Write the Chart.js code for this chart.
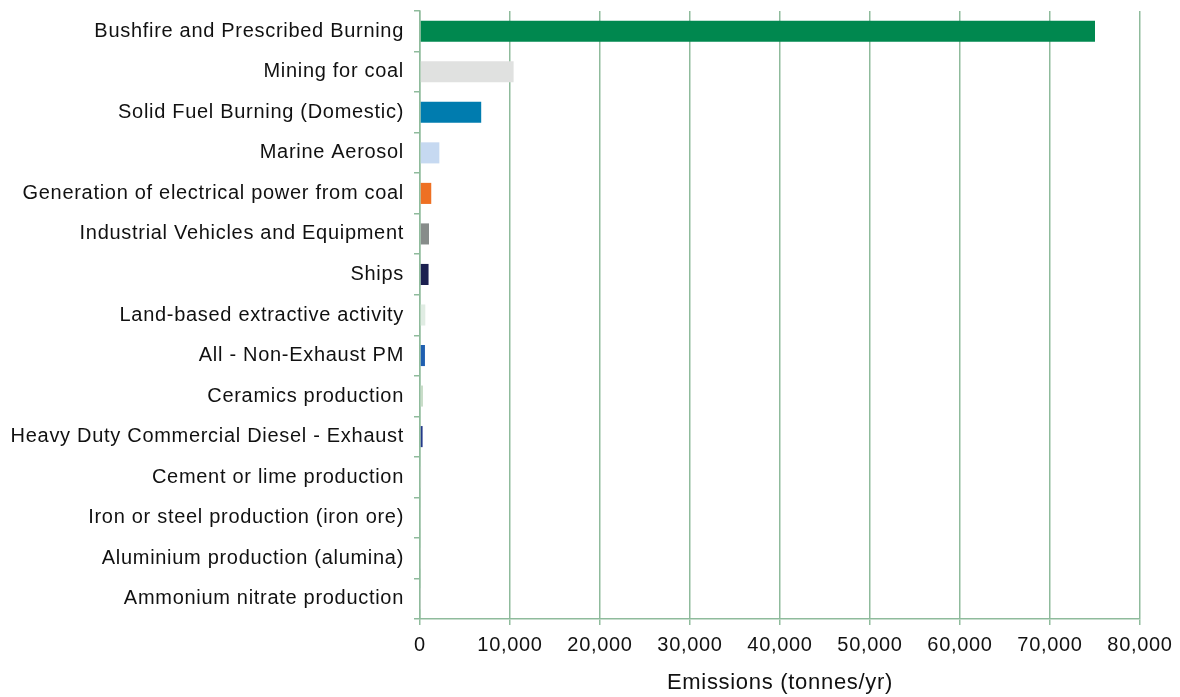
<!DOCTYPE html>
<html>
    <head>
        <script src="https://cdn.jsdelivr.net/npm/chart.js@4.4.1/dist/chart.umd.min.js"></script>
        <style>
            body { margin: 0; background: #fff; }
            #wrap { width: 1180px; height: 697px; }
        </style>
    </head>
    <body>
        <div id="wrap">
            <canvas id="myChart" width="1180" height="697"></canvas>
        </div>
    </body>
    <script>
        // categories (top to bottom)
        const sources = [
            'Bushfire and Prescribed Burning',
            'Mining for coal',
            'Solid Fuel Burning (Domestic)',
            'Marine Aerosol',
            'Generation of electrical power from coal',
            'Industrial Vehicles and Equipment',
            'Ships',
            'Land-based extractive activity',
            'All - Non-Exhaust PM',
            'Ceramics production',
            'Heavy Duty Commercial Diesel - Exhaust',
            'Cement or lime production',
            'Iron or steel production (iron ore)',
            'Aluminium production (alumina)',
            'Ammonium nitrate production'
        ]
        // emissions, tonnes/yr
        const emissions = [75000, 10400, 6800, 2150, 1250, 1000, 950, 590, 550, 330, 290, 120, 90, 60, 40]
        const barColors = [
            '#00884f', '#e0e1e0', '#007caf', '#c6d9f1', '#ee7023',
            '#878c8a', '#1b2050', '#e0ece3', '#1f5fb0', '#c8dcc8',
            '#253a8a', '#d0d0d0', '#d0d0d0', '#d0d0d0', '#d0d0d0'
        ]
        const xTicks = [0, 10000, 20000, 30000, 40000, 50000, 60000, 70000, 80000]

        const gridColor = '#8fbb9c'
        const font = 'Liberation Sans, Arial, sans-serif'

        // 글자 간격 (원본 그림의 약간 넓은 자간)
        const spacing = {
            id: 'spacing',
            beforeDraw(chart) { chart.ctx.letterSpacing = '0.7px' }
        }

        const data = {
            labels: sources,
            datasets: [{
                data: emissions,
                backgroundColor: barColors,
                barPercentage: 0.52,
                categoryPercentage: 1
            }]
        }
        const config = {
            type: 'bar',
            data: data,
            plugins: [spacing],
            options: {
                indexAxis: 'y',
                responsive: false,
                animation: false,
                layout: { padding: { left: 0, top: 11, right: 40, bottom: 0 } },
                plugins: { legend: { display: false }, tooltip: { enabled: false } },
                scales: {
                    x: {
                        min: 0,
                        max: 80000,
                        afterBuildTicks: (s) => { s.ticks = xTicks.map(v => ({ value: v })) },
                        afterFit: (s) => { s.height = 78 },
                        grid: { color: gridColor, lineWidth: 1.5, tickLength: 6 },
                        border: { color: gridColor, width: 1.5 },
                        ticks: {
                            color: '#111',
                            font: { family: font, size: 20 },
                            padding: 8,
                            maxRotation: 0,
                            callback: (v) => v.toLocaleString('en-US')
                        },
                        title: {
                            display: true,
                            text: 'Emissions (tonnes/yr)',
                            color: '#111',
                            font: { family: font, size: 22 },
                            padding: { top: 4, bottom: 1 }
                        }
                    },
                    y: {
                        z: 1,
                        afterFit: (s) => {
                            s.width = 420
                            s.paddingTop = 0
                            s.paddingBottom = 0
                        },
                        grid: { color: gridColor, lineWidth: 1.5, tickLength: 6, drawOnChartArea: false },
                        border: { color: gridColor, width: 1.5 },
                        ticks: {
                            color: '#111',
                            font: { family: font, size: 20 },
                            padding: 10,
                            autoSkip: false
                        }
                    }
                }
            }
        }
        const myChart = new Chart(document.getElementById('myChart'), config)
    </script>
</html>
